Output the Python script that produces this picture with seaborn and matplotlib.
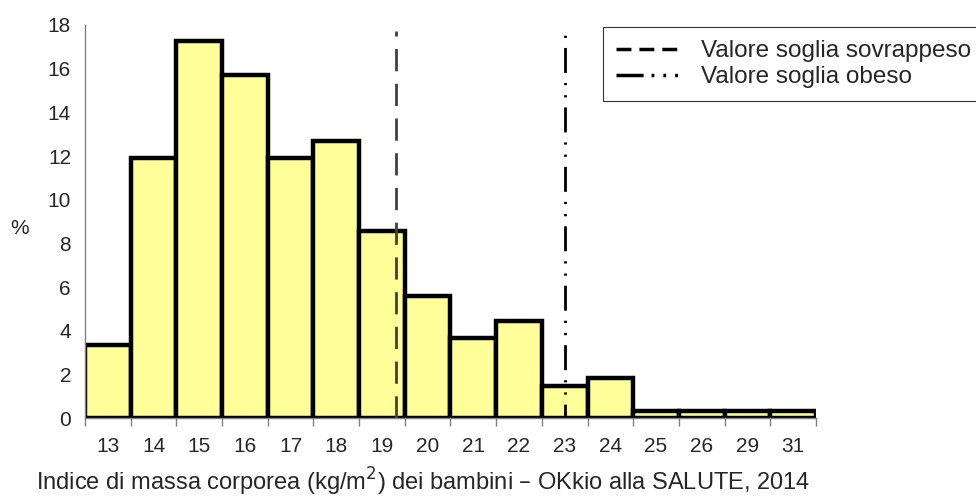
import numpy as np
import pandas as pd
import matplotlib
matplotlib.use("Agg")
import matplotlib.pyplot as plt
from matplotlib.lines import Line2D
import seaborn as sns

# data
bmi_classes = ["13", "14", "15", "16", "17", "18", "19", "20",
               "21", "22", "23", "24", "25", "26", "29", "31"]
percent = [3.35, 11.9, 17.25, 15.7, 11.9, 12.7, 8.55, 5.6,
           3.65, 4.45, 1.45, 1.85, 0.3, 0.3, 0.3, 0.3]
# threshold positions (in category units)
soglia_sovrappeso = 6.3
soglia_obeso = 10.0
y_ticks = [0, 2, 4, 6, 8, 10, 12, 14, 16, 18]

sns.set_style("white")
plt.rcParams['font.family'] = ['Liberation Sans', 'DejaVu Sans']

df = pd.DataFrame({'bmi': bmi_classes, 'pct': percent})

fig = plt.figure(figsize=(9.76, 4.99), dpi=100)
ax = fig.add_axes([0.0871, 0.1623, 0.7489, 0.7876])

sns.barplot(data=df, x='bmi', y='pct', color='#FFFF99', saturation=1,
            edgecolor='black', linewidth=3.2, width=1, ax=ax)

# threshold lines
ax.axvline(soglia_sovrappeso, ymin=0, ymax=0.985, color='#404040', lw=2,
           linestyle=(0, (8, 4.5)))
obeso_style = (4, (9, 3.6, 0.8, 3.6, 0.8, 3.6))
ax.axvline(soglia_obeso, ymin=0, ymax=0.995, color='black', lw=2,
           linestyle=obeso_style)

ax.set_xlim(-0.5, len(bmi_classes) - 0.5)
ax.set_ylim(0, 18)
ax.set_yticks(y_ticks)
ax.tick_params(axis='y', labelsize=15, length=5, color='#808080', width=1, pad=5)

ax.set_xticks(range(len(bmi_classes)))
ax.set_xticklabels(bmi_classes)
ax.set_xticks(np.arange(-0.5, len(bmi_classes)), minor=True)
ax.tick_params(axis='x', which='major', length=0, labelsize=15, pad=14)
ax.tick_params(axis='x', which='minor', length=6, color='#808080', width=1,
               bottom=True)

for s in ['top', 'right']:
    ax.spines[s].set_visible(False)
for s in ['left', 'bottom']:
    ax.spines[s].set_color('#808080')
    ax.spines[s].set_linewidth(1)

ax.set_xlabel('')
ax.set_ylabel('')
fig.text(20 / 976, 1 - 228 / 499, '%', fontsize=15, ha='center', va='center')
fig.text(423 / 976, 1 - 491 / 499,
         'Indice di massa corporea (kg/m$^2$) dei bambini \u2013 OKkio alla SALUTE, 2014',
         fontsize=17, ha='center', va='baseline')

handles = [
    Line2D([], [], color='black', lw=2.5, linestyle=(0, (4.3, 2.3))),
    Line2D([], [], color='black', lw=2.5,
           linestyle=(0, (7.8, 2.3, 0.8, 2.6, 0.8, 2.6, 0.8, 2.6))),
]
leg = fig.legend(handles, ['Valore soglia sovrappeso', 'Valore soglia obeso'],
                 loc='upper left', bbox_to_anchor=(603 / 976, 1 - 27 / 499),
                 fontsize=17.5, frameon=True, fancybox=False, handlelength=2.6,
                 handletextpad=0.9, borderpad=0.55, labelspacing=0.15,
                 borderaxespad=0)
leg.get_frame().set_edgecolor('black')
leg.get_frame().set_linewidth(0.8)

fig.savefig('out.png', dpi=100)
